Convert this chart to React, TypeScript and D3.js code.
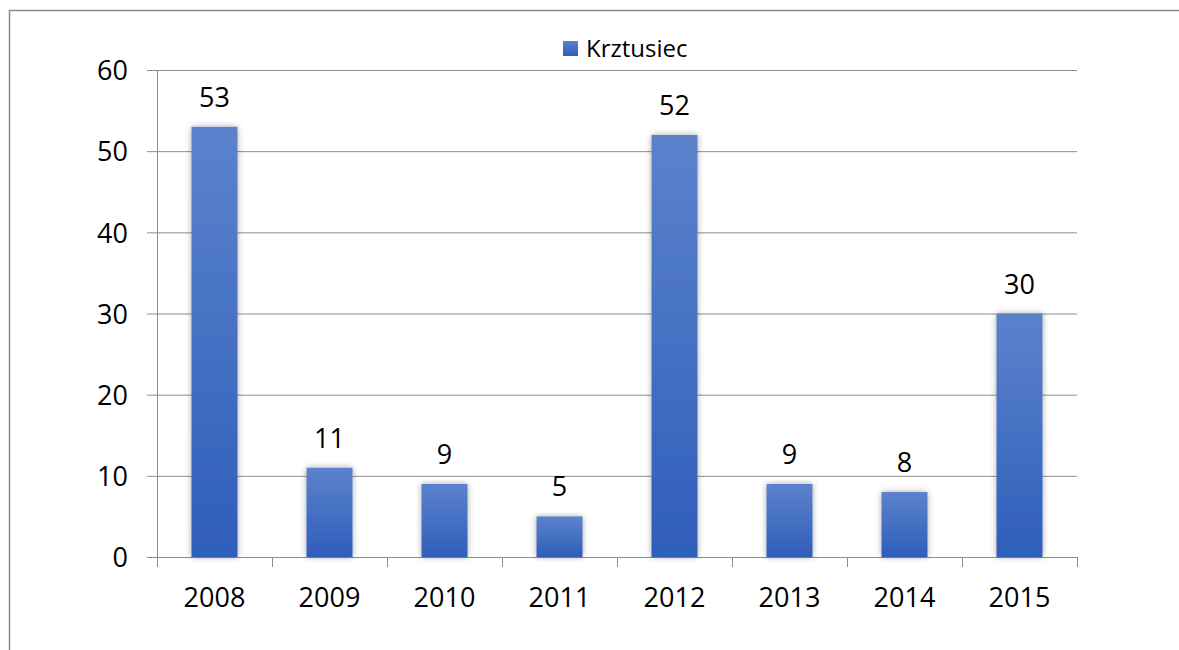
import React from "react";
import * as d3 from "d3";

const years = ["2008", "2009", "2010", "2011", "2012", "2013", "2014", "2015"];
const cases = [53, 11, 9, 5, 52, 9, 8, 30];
const yTicks = [0, 10, 20, 30, 40, 50, 60];
const seriesName = "Krztusiec";

const W = 1179;
const H = 650;
const margin = { top: 70, left: 157, right: 102, bottom: 93 };
const font = "'Open Sans', 'Noto Sans', sans-serif";

const App = () => {
  const innerW = W - margin.left - margin.right;
  const innerH = H - margin.top - margin.bottom;

  const x = d3.scaleBand().domain(years).range([0, innerW]).paddingInner(0.6).paddingOuter(0.3);
  const y = d3.scaleLinear().domain([0, 60]).range([innerH, 0]);
  const step = x.step();

  return (
    <svg
      width={W}
      height={H}
      style={{ position: "absolute", left: 0, top: 0, display: "block", background: "#fff" }}
    >
      <defs>
        <linearGradient id="barGrad" x1="0" y1="0" x2="0" y2="1">
          <stop offset="0%" stopColor="#5c82cc" />
          <stop offset="100%" stopColor="#2e5eba" />
        </linearGradient>
        <filter id="shadow" x="-30%" y="-10%" width="160%" height="120%">
          <feGaussianBlur in="SourceAlpha" stdDeviation="3" />
          <feOffset dx="0" dy="0" result="blur" />
          <feComponentTransfer>
            <feFuncA type="linear" slope="0.35" />
          </feComponentTransfer>
          <feMerge>
            <feMergeNode />
            <feMergeNode in="SourceGraphic" />
          </feMerge>
        </filter>
      </defs>

      {/* chart frame: only top and left edges are in view */}
      <path d={`M9.5,${H}V10.5H${W}`} fill="none" stroke="#8c8c8c" strokeWidth={1.5} />

      {/* legend */}
      <rect x={563} y={41} width={15} height={15} fill="url(#barGrad)" />
      <text x={586} y={57} fontFamily={font} fontSize={24} fill="#000">
        {seriesName}
      </text>

      <g transform={`translate(${margin.left},${margin.top})`}>
        {yTicks.map((t) => (
          <g key={t} transform={`translate(0,${y(t) + 0.5})`}>
            <line x1={-10} x2={innerW} stroke="#8c8c8c" strokeWidth={1} />
            <text x={-29} dy="0.36em" textAnchor="end" fontFamily={font} fontSize={27} fill="#000">
              {t}
            </text>
          </g>
        ))}
        <line x1={0.5} x2={0.5} y1={0} y2={innerH + 10} stroke="#8c8c8c" />
        {years.map((yr, i) => (
          <line
            key={yr}
            x1={Math.round(step * (i + 1)) + 0.5}
            x2={Math.round(step * (i + 1)) + 0.5}
            y1={innerH}
            y2={innerH + 10}
            stroke="#8c8c8c"
          />
        ))}

        {years.map((yr, i) => (
          <g key={yr}>
            <rect
              x={x(yr)}
              y={y(cases[i])}
              width={x.bandwidth()}
              height={innerH - y(cases[i])}
              fill="url(#barGrad)"
              filter="url(#shadow)"
            />
            <text
              x={(x(yr) as number) + x.bandwidth() / 2}
              y={y(cases[i]) - 20}
              textAnchor="middle"
              fontFamily={font}
              fontSize={27}
              fill="#000"
            >
              {cases[i]}
            </text>
            <text
              x={(x(yr) as number) + x.bandwidth() / 2}
              y={innerH + 50}
              textAnchor="middle"
              fontFamily={font}
              fontSize={27}
              fill="#000"
            >
              {yr}
            </text>
          </g>
        ))}
      </g>
    </svg>
  );
};

export default App;
